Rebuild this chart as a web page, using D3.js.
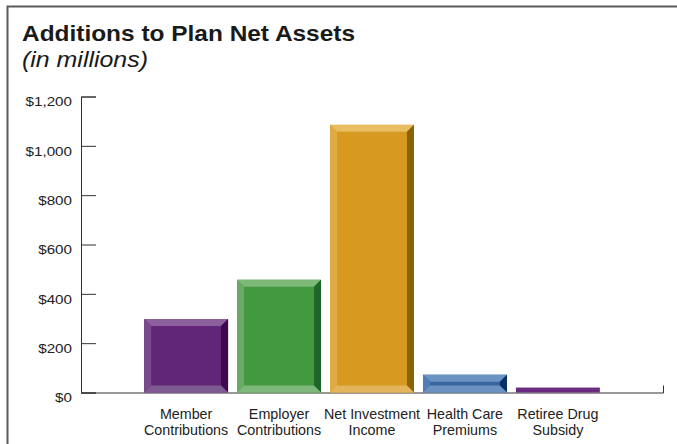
<!DOCTYPE html>
<html><head><meta charset="utf-8">
<script src="https://cdn.jsdelivr.net/npm/d3@7"></script>
<style>
html,body{margin:0;padding:0;background:#fff;}
svg{display:block;font-family:"Liberation Sans",Arial,sans-serif;}
</style></head>
<body>
<svg id="c" width="677" height="444"></svg>
<script>
const categories = [["Member","Contributions"],["Employer","Contributions"],["Net Investment","Income"],["Health Care","Premiums"],["Retiree Drug","Subsidy"]];
const values = [298, 457, 1085, 72, 20];
const yTicks = [0, 200, 400, 600, 800, 1000, 1200];
const colors = [
  {base:"#612677", top:"#8c609c", left:"#7a4b8c", right:"#3d0a4d", bottom:"#7d5a8f"},
  {base:"#43993f", top:"#7cb978", left:"#6aaa66", right:"#1e6627", bottom:"#7db77a"},
  {base:"#d7991f", top:"#e9bd62", left:"#dfab44", right:"#8a6208", bottom:"#e3b45a"},
  {base:"#3767a1", top:"#6a92c2", left:"#4f7db5", right:"#0a2e66", bottom:"#6a91c0"},
  {base:"#6a2a80", top:"#6a2a80", left:"#6a2a80", right:"#6a2a80", bottom:"#6a2a80"}
];

const svg = d3.select("#c");

// frame
svg.append("path").attr("d","M7.5,444V6.5H677").attr("fill","none").attr("stroke","#5a5a5a").attr("stroke-width",2);

// title
svg.append("text").attr("x",22).attr("y",41).attr("font-size",22).attr("font-weight","bold").attr("fill","#1a1a1a")
  .attr("textLength",333).attr("lengthAdjust","spacingAndGlyphs").text("Additions to Plan Net Assets");
svg.append("text").attr("x",22).attr("y",67).attr("font-size",22).attr("font-style","italic").attr("fill","#1a1a1a")
  .attr("textLength",126).attr("lengthAdjust","spacingAndGlyphs").text("(in millions)");

const y = d3.scaleLinear().domain([0,1200]).range([392.5,96.5]);
const x = d3.scaleBand().domain(d3.range(categories.length)).range([139.5,604.5]).paddingInner(0.097).paddingOuter(0.05);

// y axis
const ax = svg.append("g").attr("transform","translate(81,0)")
  .call(d3.axisLeft(y).tickValues(yTicks).tickSize(-15).tickPadding(9).tickFormat(d=>"$"+d3.format(",")(d)));
ax.selectAll("path,line").attr("stroke","#333");
ax.selectAll("text").attr("font-size",13).attr("fill","#222").attr("dy","0.72em")
  .attr("font-family","'Liberation Sans',Arial,sans-serif")
  .each(function(){ const w=this.getComputedTextLength(); d3.select(this).attr("textLength",w*1.17).attr("lengthAdjust","spacingAndGlyphs"); });

// baseline
svg.append("path").attr("d",`M81,${y(0)+0.5}H663.5V${y(0)-7}`).attr("fill","none").attr("stroke","#333");

// bars
const g = svg.append("g");
values.forEach((v,i)=>{
  const x0 = x(i), x1 = x(i)+x.bandwidth(), y0 = y(v), y1 = y(0);
  const c = colors[i];
  const h = y1-y0;
  const b = h < 10 ? 0 : Math.min(7, h/2 - 1);
  const bg = g.append("g");
  bg.append("rect").attr("x",x0).attr("y",y0).attr("width",x1-x0).attr("height",h).attr("fill",c.base);
  if (b>0){
    bg.append("path").attr("d",`M${x0},${y0}L${x1},${y0}L${x1-b},${y0+b}L${x0+b},${y0+b}Z`).attr("fill",c.top);
    bg.append("path").attr("d",`M${x0},${y0}L${x0+b},${y0+b}L${x0+b},${y1-b}L${x0},${y1}Z`).attr("fill",c.left);
    bg.append("path").attr("d",`M${x1},${y0}L${x1},${y1}L${x1-b},${y1-b}L${x1-b},${y0+b}Z`).attr("fill",c.right);
    bg.append("path").attr("d",`M${x0},${y1}L${x0+b},${y1-b}L${x1-b},${y1-b}L${x1},${y1}Z`).attr("fill",c.bottom);
  }
});

// category labels
categories.forEach((lines,i)=>{
  const cx = x(i)+x.bandwidth()/2;
  const t = svg.append("text").attr("text-anchor","middle").attr("font-size",14.3).attr("fill","#222");
  lines.forEach((l,j)=>{
    t.append("tspan").attr("x",cx).attr("y",419+j*15.5).text(l);
  });
});
</script>
</body></html>
